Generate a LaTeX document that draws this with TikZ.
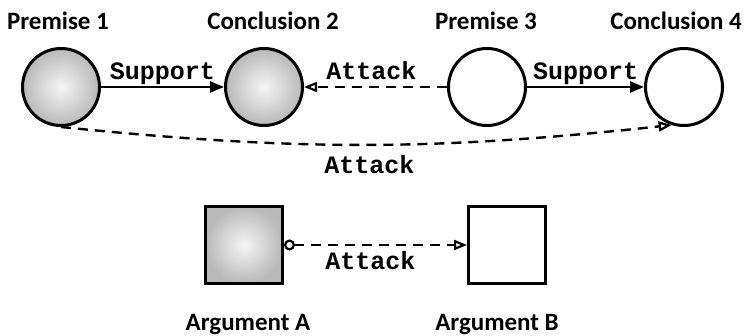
\documentclass[tikz,border=0pt]{standalone}
\usepackage{fontspec}
\setmainfont{Carlito}
\newfontfamily\edgefont{Liberation Mono}
\usetikzlibrary{arrows.meta,positioning,shapes}
\tikzset{
	ball/.style={circle,draw,line width=3pt,minimum size=77pt,inner sep=0pt},
	box/.style={rectangle,draw,line width=3pt,minimum size=77pt,inner sep=0pt},
	grayfill/.style={shading=radial,inner color=gray!8,outer color=gray!55},
	titletext/.style={font=\fontsize{25}{28}\selectfont\bfseries,anchor=base},
	edgetext/.style={font=\fontsize{25}{28}\edgefont\bfseries,anchor=base},
	% connectors ------------------------------------------------
	supportarrow/.style={line width=2.4pt,-{Triangle[length=14pt,width=11pt]}},
	attackarrow/.style={line width=2.4pt,dash pattern=on 10pt off 7pt,-{Triangle[open,length=13pt,width=10pt,line width=2.2pt]}},
}
\begin{document}
\begin{tikzpicture}[x=1pt,y=1pt]
	\useasboundingbox (0,0) rectangle (746,-336);
	% circles
	\node[ball,grayfill] (p1) at (61,-87){};
	\node[ball,grayfill] (c2) at (264,-87){};
	\node[ball] (p3) at (487,-87){};
	\node[ball] (c4) at (684,-87){};
	\node[titletext] (lp1) at (58,-30){Premise 1};
	\node[titletext] (lc2) at (273,-30){Conclusion 2};
	\node[titletext] (lp3) at (486,-30){Premise 3};
	\node[titletext] (lc4) at (676,-30){Conclusion 4};
	\draw [supportarrow] (p1) -- (c2) node[edgetext,midway,yshift=7pt]{Support};
	\draw [supportarrow] (p3) -- (c4) node[edgetext,midway,yshift=7pt]{Support};
	\draw [attackarrow] (p3) -- (c2) node[edgetext,midway,yshift=7pt,xshift=-4pt]{Attack};
	\draw [attackarrow] (p1.south) to [bend right=6] node[edgetext,pos=.5,yshift=-29pt,xshift=3pt]{Attack} (c4.252);
	% squares
	\node[box,grayfill] (a) at (244,-245){};
	\node[box] (b) at (507,-245){};
	\node[titletext] (la) at (248,-330){Argument A};
	\node[titletext] (lb) at (497,-330){Argument B};
	\draw [attackarrow,{Circle[open,length=11pt,width=11pt,line width=2.2pt]}-{Triangle[open,length=13pt,width=10pt,line width=2.2pt]}] (a) -- (b) node[edgetext,midway,yshift=-25pt,xshift=-5pt]{Attack};
\end{tikzpicture}
\end{document}
